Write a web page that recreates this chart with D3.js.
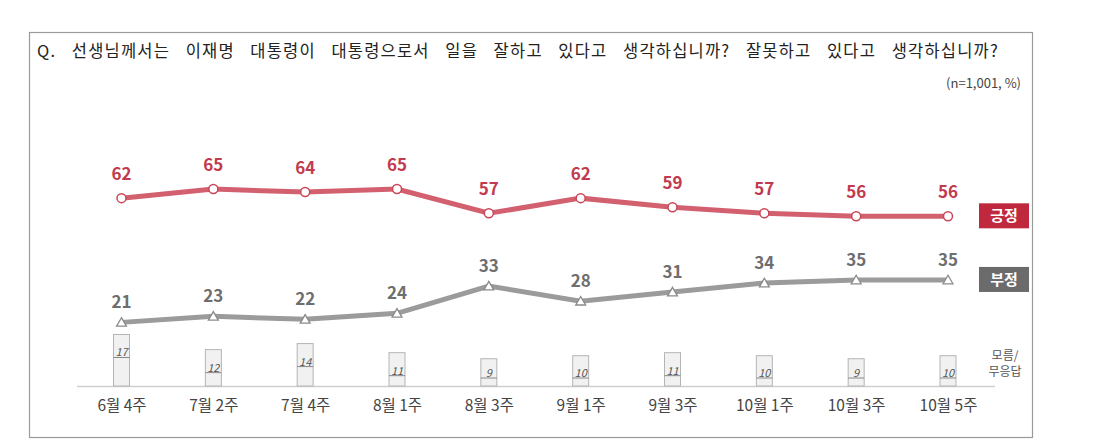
<!DOCTYPE html>
<html>
<head>
<meta charset="utf-8">
<script src="https://cdn.jsdelivr.net/npm/d3@7"></script>
<style>
  body { margin: 0; background: #fff; }
  svg text { font-family: "Noto Sans CJK KR", "Noto Sans", sans-serif; }
</style>
</head>
<body>
<div id="chart"></div>
<script>
const weeks = ["6월 4주", "7월 2주", "7월 4주", "8월 1주", "8월 3주", "9월 1주", "9월 3주", "10월 1주", "10월 3주", "10월 5주"];
const positive = [62, 65, 64, 65, 57, 62, 59, 57, 56, 56];
const negative = [21, 23, 22, 24, 33, 28, 31, 34, 35, 35];
const unknown = [17, 12, 14, 11, 9, 10, 11, 10, 9, 10];

const W = 1106, H = 447;
const svg = d3.select("#chart").append("svg")
  .attr("width", W).attr("height", H);

// frame
svg.append("rect")
  .attr("x", 29.5).attr("y", 32.5)
  .attr("width", 1003).attr("height", 405)
  .attr("fill", "#fff")
  .attr("stroke", "#9a9a9a").attr("stroke-width", 1.2);

// question title, stretched to the width of the original
const title = svg.append("text")
  .attr("x", 37).attr("y", 57)
  .attr("font-size", "16.5px")
  .attr("letter-spacing", "1.2px")
  .attr("fill", "#222")
  .text("Q. 선생님께서는 이재명 대통령이 대통령으로서 일을 잘하고 있다고 생각하십니까? 잘못하고 있다고 생각하십니까?");
const tw = title.node().getComputedTextLength();
title.attr("word-spacing", Math.max(0, (962 - tw) / 11));

svg.append("text")
  .attr("x", 1021).attr("y", 88)
  .attr("text-anchor", "end")
  .attr("font-size", "13px")
  .attr("fill", "#444")
  .text("(n=1,001,  %)");

const x = d3.scalePoint().domain(weeks).range([121.5, 948]);
const y = d3.scaleLinear().domain([0, 100]).range([386, 83]);

// baseline
svg.append("line")
  .attr("x1", 77).attr("x2", 995)
  .attr("y1", 386.5).attr("y2", 386.5)
  .attr("stroke", "#cfcfcf").attr("stroke-width", 1.5);

// 모름/무응답 bars
const bars = svg.selectAll(".bar")
  .data(unknown)
  .enter().append("g")
  .attr("class", "bar");

bars.append("rect")
  .attr("x", (d, i) => x(weeks[i]) - 8)
  .attr("y", d => y(d))
  .attr("width", 16)
  .attr("height", d => y(0) - y(d))
  .attr("fill", "#f1f1f1")
  .attr("stroke", "#b5b5b5")
  .attr("stroke-width", 1);

bars.append("line")
  .attr("x1", (d, i) => x(weeks[i]) - 8)
  .attr("x2", (d, i) => x(weeks[i]) + 8)
  .attr("y1", d => Math.min(y(d) + 23, y(0) - 8))
  .attr("y2", d => Math.min(y(d) + 23, y(0) - 8))
  .attr("stroke", "#888").attr("stroke-width", 1);

bars.append("text")
  .attr("x", (d, i) => x(weeks[i]))
  .attr("y", d => Math.min(y(d) + 22, y(0) - 9))
  .attr("text-anchor", "middle")
  .attr("font-size", "11px")
  .attr("font-style", "italic")
  .attr("fill", "#555")
  .text(d => d);

// x axis labels
svg.append("g")
  .attr("transform", "translate(0,386)")
  .call(d3.axisBottom(x).tickSize(0).tickPadding(14))
  .call(g => g.select(".domain").remove())
  .call(g => g.selectAll("text")
    .attr("font-size", "15.5px")
    .attr("fill", "#444")
    .attr("font-family", "\"Noto Sans CJK KR\", sans-serif"));

const line = d3.line()
  .x((d, i) => x(weeks[i]))
  .y(d => y(d));

// 긍정 line
svg.append("path")
  .datum(positive)
  .attr("d", line)
  .attr("fill", "none")
  .attr("stroke", "#d2606f")
  .attr("stroke-width", 5);

svg.selectAll(".pos-dot")
  .data(positive)
  .enter().append("circle")
  .attr("cx", (d, i) => x(weeks[i]))
  .attr("cy", d => y(d))
  .attr("r", 4.5)
  .attr("fill", "#fff")
  .attr("stroke", "#c94558")
  .attr("stroke-width", 1.5);

svg.selectAll(".pos-label")
  .data(positive)
  .enter().append("text")
  .attr("x", (d, i) => x(weeks[i]))
  .attr("y", d => y(d) - 18)
  .attr("text-anchor", "middle")
  .attr("font-size", "17px")
  .attr("font-weight", "bold")
  .attr("fill", "#c23a4d")
  .text(d => d);

// 부정 line
svg.append("path")
  .datum(negative)
  .attr("d", line)
  .attr("fill", "none")
  .attr("stroke", "#9b9b9b")
  .attr("stroke-width", 5);

const tri = d3.symbol().type(d3.symbolTriangle).size(42);
svg.selectAll(".neg-dot")
  .data(negative)
  .enter().append("path")
  .attr("d", tri)
  .attr("transform", (d, i) => `translate(${x(weeks[i])},${y(d) + 1})`)
  .attr("fill", "#fff")
  .attr("stroke", "#8a8a8a")
  .attr("stroke-width", 1.3);

svg.selectAll(".neg-label")
  .data(negative)
  .enter().append("text")
  .attr("x", (d, i) => x(weeks[i]))
  .attr("y", d => y(d) - 14)
  .attr("text-anchor", "middle")
  .attr("font-size", "17px")
  .attr("font-weight", "bold")
  .attr("fill", "#6e6e6e")
  .text(d => d);

// legend boxes
const legend = [
  { name: "긍정", color: "#c0293d", y: y(positive[positive.length - 1]) },
  { name: "부정", color: "#6b6b6b", y: y(negative[negative.length - 1]) }
];
const lg = svg.selectAll(".legend")
  .data(legend)
  .enter().append("g")
  .attr("transform", d => `translate(979,${d.y - 13})`);
lg.append("rect")
  .attr("width", 50).attr("height", 25)
  .attr("fill", d => d.color);
lg.append("text")
  .attr("x", 25).attr("y", 18)
  .attr("text-anchor", "middle")
  .attr("font-size", "15px")
  .attr("font-weight", "bold")
  .attr("fill", "#fff")
  .text(d => d.name);

// 모름/무응답 label
const ul = svg.append("text")
  .attr("x", 1005).attr("y", 360)
  .attr("text-anchor", "middle")
  .attr("font-size", "12px")
  .attr("fill", "#555");
["모름/", "무응답"].forEach((t, i) => {
  ul.append("tspan").attr("x", 1005).attr("dy", i === 0 ? 0 : "1.3em").text(t);
});
</script>
</body>
</html>
